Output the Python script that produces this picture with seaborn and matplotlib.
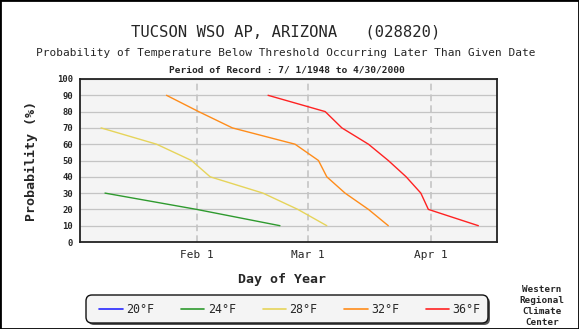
import matplotlib
matplotlib.use("Agg")
import matplotlib.pyplot as plt
import pandas as pd
import seaborn as sns
from matplotlib.lines import Line2D
from matplotlib.patches import FancyBboxPatch, Rectangle
from matplotlib.transforms import IdentityTransform, ScaledTranslation

# Thresholds and their line colours
thresholds = ["20°F", "24°F", "28°F", "32°F", "36°F"]
colors = ["#2828ff", "#2e9a2e", "#e6d45a", "#ff8c1a", "#ff2222"]

# Day of year at which each probability level is reached
probs_24 = [30, 20, 10]
days_24 = [8.9, 32.0, 53.0]

probs_28 = [70, 60, 50, 40, 30, 20, 10]
days_28 = [7.9, 21.9, 30.7, 35.4, 48.7, 57.5, 64.8]

probs_32 = [90, 80, 70, 60, 50, 40, 30, 20, 10]
days_32 = [24.4, 32.5, 41.0, 56.8, 62.7, 64.8, 69.4, 75.3, 80.3]

probs_36 = [90, 80, 70, 60, 50, 40, 30, 20, 10]
days_36 = [50.0, 64.4, 68.6, 75.3, 80.3, 84.8, 88.5, 90.4, 103.0]

month_days = [32, 60, 91]
month_labels = ["Feb 1", "Mar 1", "Apr 1"]
y_ticks = list(range(0, 101, 10))

series = {"24°F": (days_24, probs_24), "28°F": (days_28, probs_28),
          "32°F": (days_32, probs_32), "36°F": (days_36, probs_36)}
rows = []
for name, (d, p) in series.items():
    for dd, pp in zip(d, p):
        rows.append({"threshold": name, "day": dd, "prob": pp})
df = pd.DataFrame(rows)

sns.set_style("white")
plt.rcParams["font.family"] = ["DejaVu Sans Mono"]

W, H = 579, 329
fig = plt.figure(figsize=(W / 100, H / 100), dpi=100)
fig.patch.set_facecolor("white")
ax = fig.add_axes([80 / W, 1 - 242 / H, 417 / W, 163 / H])
ax.set_facecolor("#f4f4f4")

for y in y_ticks[1:]:
    ax.axhline(y, color="#c4c4c4", lw=0.9, zorder=1)
for d in month_days:
    ax.axvline(d, color="#c4c4c4", lw=1.2, ls=(0, (4, 2.5)), zorder=1)

sns.lineplot(data=df, x="day", y="prob", hue="threshold", hue_order=thresholds,
             palette=dict(zip(thresholds, colors)), estimator=None, sort=False,
             legend=False, linewidth=1.0, ax=ax, zorder=3)

ax.set_xlim(2.6, 107.7)
ax.set_ylim(0, 100)
ax.set_xticks(month_days)
ax.set_xticklabels(month_labels, fontsize=8)
# date labels sit slightly right of their grid lines
shift = ScaledTranslation(4 / 100, 0, fig.dpi_scale_trans)
for lbl in ax.get_xticklabels():
    lbl.set_transform(lbl.get_transform() + shift)
ax.set_yticks(y_ticks)
ax.set_yticklabels([str(v) for v in y_ticks], fontsize=6.4, fontweight="bold")
ax.tick_params(axis="both", length=0)
ax.tick_params(axis="x", pad=6)
ax.tick_params(axis="y", pad=5)
for s in ax.spines.values():
    s.set_visible(True)
    s.set_color("#222222")
    s.set_linewidth(1.3)

ax.set_xlabel("Day of Year", fontsize=9.5, fontweight="bold")
ax.xaxis.set_label_coords((281.5 - 80) / 417, (242 - 280) / 163)
ax.xaxis.label.set_va("center")
ax.set_ylabel("Probability (%)", fontsize=9.6, fontweight="bold")
ax.yaxis.set_label_coords((31 - 80) / 417, (242 - 161) / 163)
ax.yaxis.label.set_va("center")

fig.text(286 / W, 1 - 32 / H, "TUCSON WSO AP, ARIZONA   (028820)",
         ha="center", va="center", fontsize=11.2)
fig.text(286 / W, 1 - 52.5 / H,
         "Probability of Temperature Below Threshold Occurring Later Than Given Date",
         ha="center", va="center", fontsize=8)
fig.text(287 / W, 1 - 70 / H, "Period of Record : 7/ 1/1948 to 4/30/2000",
         ha="center", va="center", fontsize=6.8, fontweight="bold")

# Legend box with a drop shadow
shadow = FancyBboxPatch((88, H - 325), 402, 28, boxstyle="round,pad=0,rounding_size=6",
                        transform=IdentityTransform(), fc="#555555", ec="none", zorder=1)
box = FancyBboxPatch((86, H - 323), 402, 28, boxstyle="round,pad=0,rounding_size=6",
                     transform=IdentityTransform(), fc="#f4f4f4", ec="#111111",
                     lw=1.0, zorder=2)
fig.add_artist(shadow)
fig.add_artist(box)

handles = [Line2D([], [], color=c, lw=1.2) for c in colors]
leg = fig.legend(handles, thresholds, ncol=5, loc="center",
                 bbox_to_anchor=(290 / W, 1 - 309.5 / H), frameon=False,
                 handlelength=2.0, handletextpad=0.3, columnspacing=2.3,
                 fontsize=8.4)
leg.set_zorder(3)

fig.text(542 / W, 1 - 306 / H, "Western\nRegional\nClimate\nCenter",
         ha="center", va="center", fontsize=6.7, fontweight="bold",
         linespacing=1.25)

fig.add_artist(Rectangle((0, 0), 1, 1, transform=fig.transFigure, fill=False,
                         ec="black", lw=2.0))

fig.savefig("out.png", dpi=100)
